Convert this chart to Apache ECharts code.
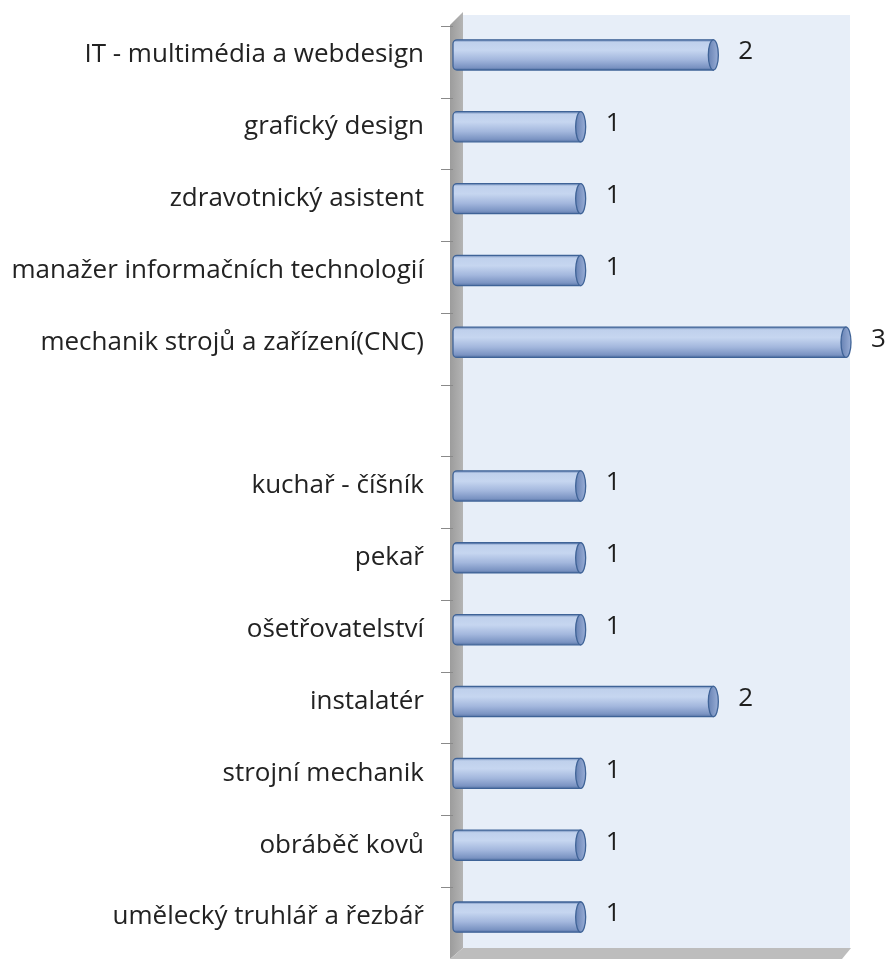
<!DOCTYPE html>
<html>
<head>
<meta charset="utf-8">
<script src="https://cdn.jsdelivr.net/npm/echarts@6/dist/echarts.min.js"></script>
<style>
  html, body { margin: 0; padding: 0; background: #ffffff; }
  #chart { width: 888px; height: 959px; }
</style>
</head>
<body>
<div id="chart"></div>
<script>
// Obory – počet žáků (horizontální válcový graf)
const categories = [
  'IT - multimédia a webdesign',
  'grafický design',
  'zdravotnický asistent',
  'manažer informačních technologií',
  'mechanik strojů a zařízení(CNC)',
  '',
  'kuchař - číšník',
  'pekař',
  'ošetřovatelství',
  'instalatér',
  'strojní mechanik',
  'obráběč kovů',
  'umělecký truhlář a řezbář'
];
const counts = [2, 1, 1, 1, 3, null, 1, 1, 1, 2, 1, 1, 1];
const axisMax = 3;

const W = 888, H = 959;
const grid = { left: 453, right: 37, top: 19, bottom: 6 };
const x0 = grid.left, x1 = W - grid.right, y0 = grid.top, y1 = H - grid.bottom;

const FONT = '"Open Sans", "Noto Sans", sans-serif';

const bodyFill = new echarts.graphic.LinearGradient(0, 0, 0, 1, [
  { offset: 0, color: '#5474a8' },
  { offset: 0.1, color: '#bfd0ec' },
  { offset: 0.35, color: '#c6d6f0' },
  { offset: 0.65, color: '#a3b7dd' },
  { offset: 0.9, color: '#7a93c2' },
  { offset: 1, color: '#4a699c' }
]);
const capFill = new echarts.graphic.LinearGradient(0, 0, 1, 0, [
  { offset: 0, color: '#6580b2' },
  { offset: 1, color: '#9cb0d8' }
]);

function renderCylinder(params, api) {
  const v = api.value(0);
  if (v == null || isNaN(v)) return null;
  const idx = api.value(1);
  const start = api.coord([0, idx]);
  const end = api.coord([v, idx]);
  const band = api.size([0, 1])[1];
  const h = band * 0.42;
  const cy = start[1];
  const rx = 5;
  return {
    type: 'group',
    children: [
      {
        type: 'rect',
        shape: { x: start[0], y: cy - h / 2, width: end[0] - rx - start[0], height: h, r: [4, 0, 0, 4] },
        style: { fill: bodyFill, stroke: '#3f6397', lineWidth: 1.3 }
      },
      {
        type: 'ellipse',
        shape: { cx: end[0] - rx, cy: cy, rx: rx, ry: h / 2 },
        style: { fill: capFill, stroke: '#3f6397', lineWidth: 1.3 }
      },
      {
        type: 'text',
        style: {
          text: String(v), x: end[0] + 20, y: cy - 3,
          verticalAlign: 'middle', align: 'left',
          font: '26px ' + FONT, fill: '#1e1e1e'
        }
      }
    ]
  };
}

const chart = echarts.init(document.getElementById('chart'), null, { renderer: 'canvas' });

chart.setOption({
  backgroundColor: '#ffffff',
  animation: false,
  graphic: [
    // back wall
    {
      type: 'rect', z: -10,
      shape: { x: x0 + 10, y: y0 - 4, width: x1 - x0 - 11, height: y1 - y0 - 1 },
      style: { fill: '#e7eef8' }
    },
    // left side wall
    {
      type: 'polygon', z: -9,
      shape: { points: [[x0 - 3, y0 + 6], [x0 + 10, y0 - 7], [x0 + 10, y1 - 5], [x0 - 3, H]] },
      style: { fill: new echarts.graphic.LinearGradient(0, 0, 1, 0, [
        { offset: 0, color: '#9c9c9c' }, { offset: 1, color: '#b4b4b4' }]) }
    },
    // floor
    {
      type: 'polygon', z: -9,
      shape: { points: [[x0 + 10, y1 - 5], [x1, y1 - 5], [x1 - 9, H], [x0 - 3, H]] },
      style: { fill: '#bdbdbd' }
    }
  ],
  grid: [
    { ...grid, containLabel: false },
    { left: grid.left, right: grid.right, top: 26, bottom: 0, containLabel: false }
  ],
  xAxis: [
    { type: 'value', gridIndex: 0, min: 0, max: axisMax, show: false },
    { type: 'value', gridIndex: 1, min: 0, max: axisMax, show: false }
  ],
  yAxis: [
    {
      type: 'category', gridIndex: 0, inverse: true, data: categories,
      axisLine: { show: false }, axisTick: { show: false }, splitLine: { show: false },
      axisLabel: {
        margin: 29, fontSize: 26, fontFamily: FONT, color: '#222222',
        padding: [4, 0, 0, 0]
      }
    },
    {
      type: 'category', gridIndex: 1, inverse: true, data: categories,
      axisLine: { show: false }, axisLabel: { show: false }, splitLine: { show: false },
      axisTick: { show: true, length: 12, lineStyle: { color: '#8a8a8a', width: 1 } }
    }
  ],
  series: [
    {
      type: 'custom', xAxisIndex: 0, yAxisIndex: 0,
      renderItem: renderCylinder,
      encode: { x: 0, y: 1 },
      data: counts.map((v, i) => [v, i]),
      z: 5
    }
  ]
});
</script>
</body>
</html>
